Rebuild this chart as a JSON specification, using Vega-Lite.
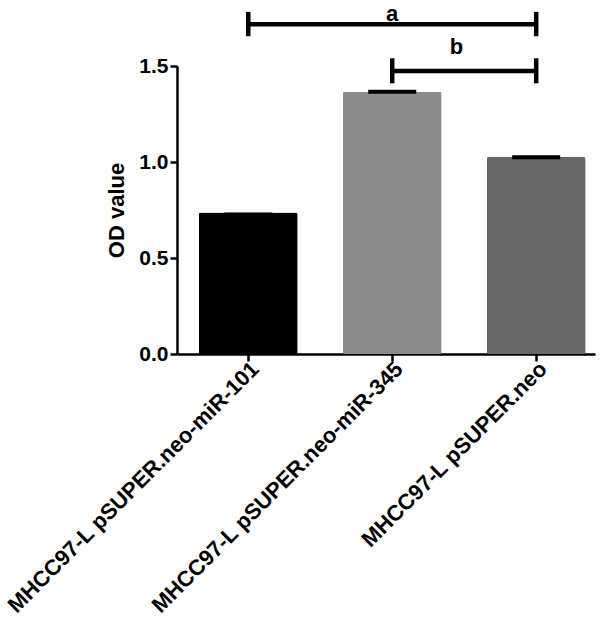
{
  "$schema": "https://vega.github.io/schema/vega-lite/v6.json",
  "autosize": "none",
  "padding": {"left": 177, "top": 66, "right": 7, "bottom": 266},
  "width": 418,
  "height": 288,
  "config": {
    "view": {"stroke": null},
    "font": "Liberation Sans",
    "axis": {"labelFont": "Liberation Sans", "titleFont": "Liberation Sans", "labelFontWeight": "bold", "titleFontWeight": "bold", "labelColor": "black", "titleColor": "black", "domainColor": "black", "tickColor": "black", "domainWidth": 2.5, "tickWidth": 2.5, "tickSize": 7, "grid": false}
  },
  "datasets": {
    "bars": [
      {"group": "MHCC97-L pSUPER.neo-miR-101", "mean": 0.737, "upper": 0.727},
      {"group": "MHCC97-L pSUPER.neo-miR-345", "mean": 1.366, "upper": 1.366},
      {"group": "MHCC97-L pSUPER.neo", "mean": 1.026, "upper": 1.025}
    ],
    "sig": [
      {"label": "a", "from": "MHCC97-L pSUPER.neo-miR-101", "to": "MHCC97-L pSUPER.neo", "mid": "MHCC97-L pSUPER.neo-miR-345", "y": 1.718, "lo": 1.655, "hi": 1.782, "ty": 1.772},
      {"label": "b", "from": "MHCC97-L pSUPER.neo-miR-345", "to": "MHCC97-L pSUPER.neo", "mid": "MHCC97-L pSUPER.neo-miR-345", "y": 1.474, "lo": 1.41, "hi": 1.54, "ty": 1.598}
    ]
  },
  "layer": [
    {
      "data": {"name": "bars"},
      "mark": {"type": "bar", "cornerRadius": 2},
      "encoding": {
        "x": {"field": "group", "type": "nominal", "sort": null,
              "scale": {"paddingInner": 0.3125, "paddingOuter": 0.108, "align": 0.7},
              "axis": {"title": null, "labelAngle": -45, "labelFontSize": 22, "labelPadding": -3, "labelLimit": 500}},
        "y": {"field": "mean", "type": "quantitative",
              "scale": {"domain": [0, 1.5], "nice": false, "zero": true},
              "axis": {"title": "OD value", "values": [0, 0.5, 1, 1.5], "format": ".1f", "labelFontSize": 21, "titleFontSize": 22, "labelPadding": 2, "titlePadding": 10}},
        "color": {"field": "group", "type": "nominal", "sort": null, "legend": null,
                  "scale": {"domain": ["MHCC97-L pSUPER.neo-miR-101", "MHCC97-L pSUPER.neo-miR-345", "MHCC97-L pSUPER.neo"], "range": ["#000000", "#8c8c8c", "#676767"]}}
      }
    },
    {
      "data": {"name": "bars"},
      "mark": {"type": "tick", "color": "black", "opacity": 1, "thickness": 4, "size": 48, "orient": "horizontal"},
      "encoding": {
        "x": {"field": "group", "type": "nominal", "sort": null},
        "y": {"field": "upper", "type": "quantitative"}
      }
    },
    {
      "data": {"name": "sig"},
      "mark": {"type": "rule", "color": "black", "strokeWidth": 4.5},
      "encoding": {
        "x": {"field": "from", "type": "nominal", "sort": null},
        "x2": {"field": "to"},
        "y": {"field": "y", "type": "quantitative"}
      }
    },
    {
      "data": {"name": "sig"},
      "mark": {"type": "rule", "color": "black", "strokeWidth": 4.5},
      "encoding": {
        "x": {"field": "from", "type": "nominal", "sort": null},
        "y": {"field": "lo", "type": "quantitative"},
        "y2": {"field": "hi"}
      }
    },
    {
      "data": {"name": "sig"},
      "mark": {"type": "rule", "color": "black", "strokeWidth": 4.5},
      "encoding": {
        "x": {"field": "to", "type": "nominal", "sort": null},
        "y": {"field": "lo", "type": "quantitative"},
        "y2": {"field": "hi"}
      }
    },
    {
      "data": {"name": "sig"},
      "transform": [{"filter": "datum.label === 'a'"}],
      "mark": {"type": "text", "fontSize": 22, "fontWeight": "bold", "font": "Liberation Sans", "baseline": "middle", "align": "center", "color": "black"},
      "encoding": {
        "x": {"field": "mid", "type": "nominal", "sort": null, "bandPosition": 0.5},
        "y": {"field": "ty", "type": "quantitative"},
        "text": {"field": "label"}
      }
    },
    {
      "data": {"name": "sig"},
      "transform": [{"filter": "datum.label === 'b'"}],
      "mark": {"type": "text", "fontSize": 22, "fontWeight": "bold", "font": "Liberation Sans", "baseline": "middle", "align": "center", "color": "black"},
      "encoding": {
        "x": {"field": "mid", "type": "nominal", "sort": null, "bandPosition": 1.15},
        "y": {"field": "ty", "type": "quantitative"},
        "text": {"field": "label"}
      }
    }
  ]
}
